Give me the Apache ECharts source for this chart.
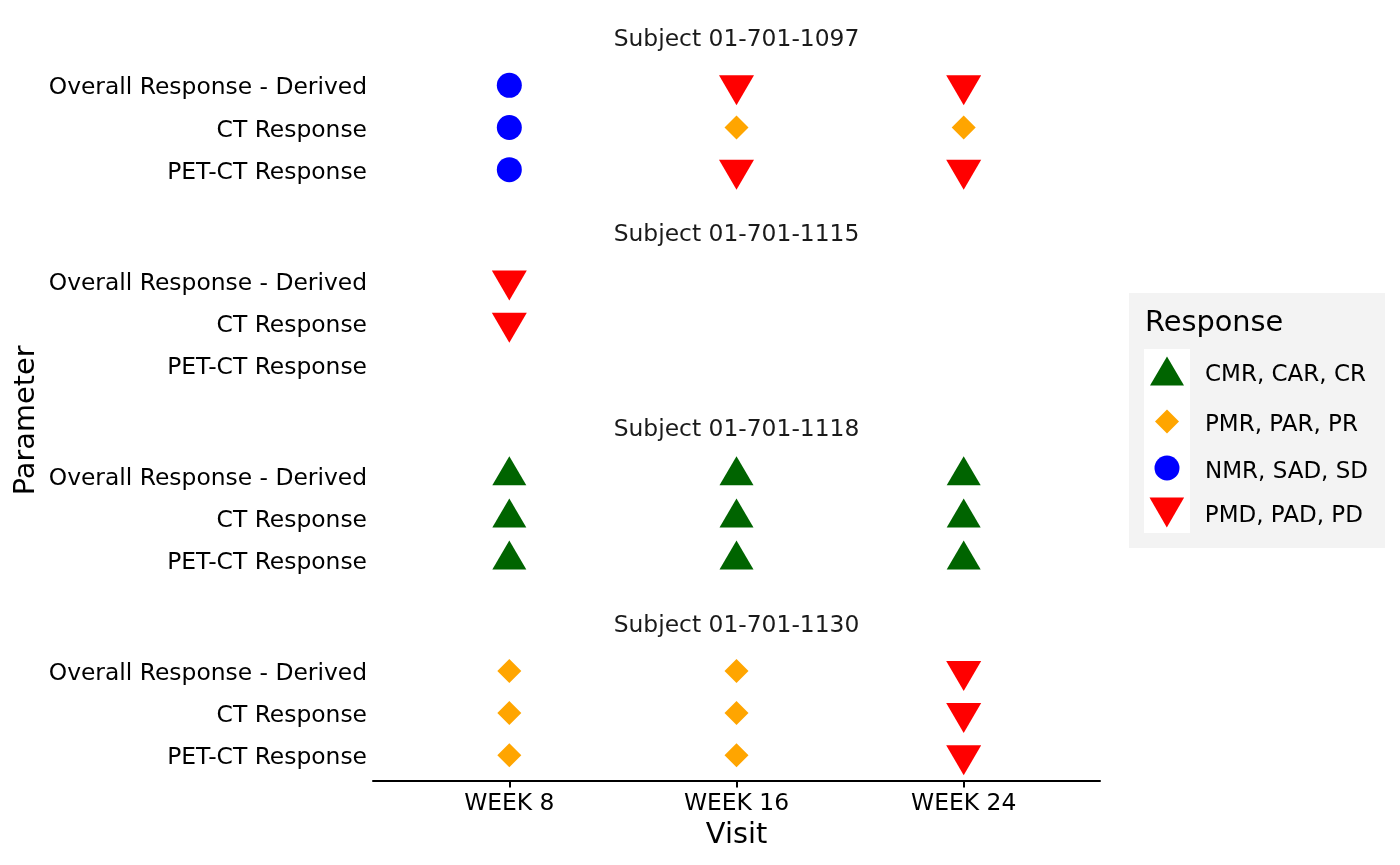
<!DOCTYPE html>
<html>
<head>
<meta charset="utf-8">
<script src="https://cdn.jsdelivr.net/npm/echarts@6/dist/echarts.min.js"></script>
<style>html,body{margin:0;padding:0;background:#fff}#c{width:1400px;height:865px}</style>
</head>
<body>
<div id="c"></div>
<script>
// ---------- data ----------
const visits = ['WEEK 8', 'WEEK 16', 'WEEK 24'];
const params = ['Overall Response - Derived', 'CT Response', 'PET-CT Response'];
const subjects = ['Subject 01-701-1097', 'Subject 01-701-1115', 'Subject 01-701-1118', 'Subject 01-701-1130'];
const responseCodes = ['CR', 'PR', 'SD', 'PD'];
const responseLabels = ['CMR, CAR, CR', 'PMR, PAR, PR', 'NMR, SAD, SD', 'PMD, PAD, PD'];
// rows: params, columns: visits (null = not assessed)
const resp1097 = [['SD', 'PD', 'PD'], ['SD', 'PR', 'PR'], ['SD', 'PD', 'PD']];
const resp1115 = [['PD', null, null], ['PD', null, null], [null, null, null]];
const resp1118 = [['CR', 'CR', 'CR'], ['CR', 'CR', 'CR'], ['CR', 'CR', 'CR']];
const resp1130 = [['PR', 'PR', 'PD'], ['PR', 'PR', 'PD'], ['PR', 'PR', 'PD']];
const responses = [resp1097, resp1115, resp1118, resp1130];

// ---------- styles ----------
const FONT = 'DejaVu Sans';
const TXT = 23.4;
const colors = ['#006400', '#FFA500', '#0000FF', '#FF0000'];
const downTri = 'path://M0,0L2,0L1,1.732Z';
const symbols = ['triangle', 'diamond', 'circle', downTri];
const sizes = [[34, 29], [24, 24], [25, 25], [35, 30]];
const offsets = [[0, -5], [0, 0], [0, 0], [0, 5]];

const gridLeft = 373, gridWidth = 727, gridHeight = 135;
const gridTops = [60, 255.2, 450.4, 645.6];
const centerX = gridLeft + gridWidth / 2;

const grids = [], xAxes = [], yAxes = [], series = [], graphics = [];
subjects.forEach((subj, s) => {
  const last = s === subjects.length - 1;
  grids.push({left: gridLeft, width: gridWidth, top: gridTops[s], height: gridHeight, outerBoundsMode: 'none'});
  xAxes.push({
    type: 'value', gridIndex: s, min: 0.4, max: 3.6, show: last,
    splitLine: {show: false},
    axisLine: {show: true, lineStyle: {color: '#000', width: 2}},
    axisTick: {show: true, length: 7, lineStyle: {color: '#000', width: 2}, customValues: [1, 2, 3]},
    axisLabel: {customValues: [1, 2, 3], formatter: v => visits[Math.round(v) - 1], margin: 12,
      fontFamily: FONT, fontSize: TXT, color: '#000'},
    name: last ? 'Visit' : '', nameLocation: 'middle', nameGap: 40,
    nameTextStyle: {fontFamily: FONT, fontSize: 28.8, color: '#000'}
  });
  yAxes.push({
    type: 'value', gridIndex: s, min: 0.4, max: 3.6, inverse: true,
    splitLine: {show: false}, axisLine: {show: false}, axisTick: {show: false},
    axisLabel: {customValues: [1, 2, 3], formatter: v => '{a|' + params[Math.round(v) - 1] + '}', margin: 6,
      rich: {a: {padding: [6, 0, 0, 0], fontFamily: FONT, fontSize: TXT, color: '#000'}},
      fontFamily: FONT, fontSize: TXT, color: '#000'}
  });
  responseCodes.forEach((code, g) => {
    const data = [];
    responses[s].forEach((row, p) => row.forEach((r, v) => { if (r === code) data.push([v + 1, p + 1]); }));
    series.push({
      type: 'scatter', name: responseLabels[g], xAxisIndex: s, yAxisIndex: s, data,
      symbol: symbols[g], symbolSize: sizes[g], symbolOffset: offsets[g],
      itemStyle: {color: colors[g], opacity: 1}, silent: true, emphasis: {disabled: true}
    });
  });
  graphics.push({type: 'text', x: centerX, y: gridTops[s] - 20, style: {text: subj, align: 'center', verticalAlign: 'middle',
    fontFamily: FONT, fontSize: TXT, fill: '#1a1a1a'}});
});

// axis title
graphics.push({type: 'text', x: 27, y: (gridTops[0] + gridTops[3] + gridHeight) / 2, rotation: Math.PI / 2,
  style: {text: 'Parameter', align: 'center', verticalAlign: 'middle', fontFamily: FONT, fontSize: 28.8, fill: '#000'}});
// legend box
graphics.push({type: 'rect', z: -10, shape: {x: 1129, y: 293, width: 256, height: 255}, style: {fill: '#f3f3f3'}});
graphics.push({type: 'rect', z: -9, shape: {x: 1144, y: 349, width: 46, height: 184}, style: {fill: '#ffffff'}});
graphics.push({type: 'text', x: 1145, y: 324, style: {text: 'Response', align: 'left', verticalAlign: 'middle',
  fontFamily: FONT, fontSize: 28.8, fill: '#000'}});

const legendCenters = [370, 418, 465, 512];
const legendIconX = 1167, legendTextX = 1205;
const legends = responseLabels.map((lab, g) => {
  const [w, h] = sizes[g];
  return {
    data: [{name: lab, icon: symbols[g]}], orient: 'vertical', padding: 0,
    left: legendIconX - w / 2, top: legendCenters[g] - h / 2,
    itemWidth: w, itemHeight: h, selectedMode: false,
    formatter: '{a|{name}}',
    textStyle: {fontFamily: FONT, fontSize: 23, color: '#000',
      rich: {a: {fontFamily: FONT, fontSize: 23, color: '#000', lineHeight: 16,
        padding: [8, 0, 0, legendTextX - (legendIconX + w / 2 + 5)]}}}
  };
});

const chart = echarts.init(document.getElementById('c'), null, {renderer: 'canvas'});
chart.setOption({
  animation: false,
  backgroundColor: '#fff',
  grid: grids, xAxis: xAxes, yAxis: yAxes, series,
  legend: legends,
  graphic: {elements: graphics}
});
</script>
</body>
</html>
